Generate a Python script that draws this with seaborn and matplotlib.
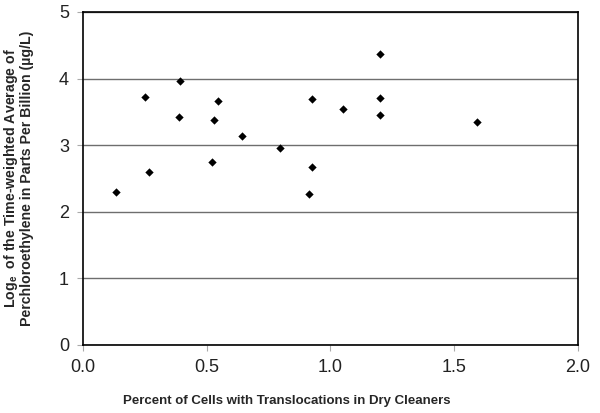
import pandas as pd
import matplotlib
matplotlib.use('Agg')
import matplotlib.pyplot as plt
import seaborn as sns

# values
translocation_pct = [0.135, 0.267, 0.250, 0.393, 0.387, 0.524, 0.531, 0.545, 0.644,
                     0.795, 0.927, 0.927, 0.915, 1.052, 1.199, 1.200, 1.200, 1.592]
log_perc = [2.29, 2.60, 3.73, 3.97, 3.43, 2.75, 3.37, 3.67, 3.14,
            2.95, 3.69, 2.67, 2.26, 3.54, 4.37, 3.71, 3.46, 3.34]
x_ticks = [0.0, 0.5, 1.0, 1.5, 2.0]
y_ticks = [0, 1, 2, 3, 4, 5]

data = pd.DataFrame({'pct': translocation_pct, 'log': log_perc})

sns.set_style('white')
plt.rcParams['font.family'] = ['Liberation Sans', 'DejaVu Sans']

fig = plt.figure(figsize=(6, 4.13), dpi=100)
ax = fig.add_axes([0.138, 0.165, 0.825, 0.806])

sns.scatterplot(x='pct', y='log', data=data, marker='D', s=18, color='black',
                edgecolor='black', linewidth=0, ax=ax, zorder=3)

ax.set_xlim(0, 2)
ax.set_ylim(0, 5)
ax.set_xticks(x_ticks)
ax.set_xticklabels([f'{v:.1f}' for v in x_ticks])
ax.set_yticks(y_ticks)
ax.set_yticklabels([str(v) for v in y_ticks])
ax.yaxis.grid(True, color='#6e6e6e', linewidth=1)
ax.xaxis.grid(False)
ax.set_axisbelow(True)

for side in ['top', 'right', 'bottom', 'left']:
    ax.spines[side].set_visible(True)
    ax.spines[side].set_color('black')
    ax.spines[side].set_linewidth(1.2)

ax.tick_params(axis='both', which='both', direction='out', length=4, width=0.8,
               color='#aaaaaa', labelsize=13, labelcolor='#222222', pad=6,
               bottom=True, left=True)

ax.set_xlabel('Percent of Cells with Translocations in Dry Cleaners',
              fontsize=9.5, fontweight='bold')
ax.xaxis.set_label_coords(0.412, -0.15)
ax.set_ylabel('Log$_\\mathregular{e}$  of the Time-weighted Average of\n'
              'Perchloroethylene in Parts Per Billion (µg/L)',
              fontsize=10.2, fontweight='bold', linespacing=1.05)
ax.yaxis.set_label_coords(-0.098, 0.5)

plt.savefig('out.png', dpi=100)
